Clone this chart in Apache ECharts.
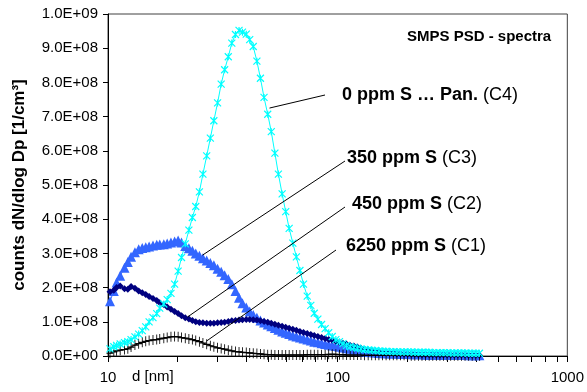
<!DOCTYPE html>
<html><head><meta charset="utf-8">
<script src="https://cdn.jsdelivr.net/npm/echarts@6/dist/echarts.min.js"></script>
<style>html,body{margin:0;padding:0;background:#fff}#c{width:587px;height:392px}</style>
</head><body><div id="c"></div>
<script>
// particle diameter channels [nm]
const diameters = [10.2,10.6,10.9,11.3,11.8,12.2,12.6,13.1,13.6,14.1,
14.6,15.1,15.7,16.3,16.8,17.5,18.1,18.8,19.5,20.2,
20.9,21.7,22.5,23.3,24.1,25.0,25.9,26.9,27.9,28.9,
30.0,31.1,32.2,33.4,34.6,35.9,37.2,38.5,40.0,41.4,
42.9,44.5,46.1,47.8,49.6,51.4,53.3,55.2,57.3,59.4,
61.5,63.8,66.1,68.5,71.0,73.7,76.4,79.1,82.0,85.1,
88.2,91.4,94.7,98.2,101.8,105.5,109.4,113.4,117.6,121.9,
126.3,131.0,135.8,140.7,145.9,151.2,156.8,162.5,168.5,174.7,
181.1,187.7,194.6,201.7,209.1,216.7,224.7,232.9,241.4,250.3,
259.5,269.0,278.8,289.0,299.6,310.6,322.0,333.8,346.0,358.7,
371.8,385.4,399.5,414.2];

// counts dN/dlog Dp, in millions per cm3
const c1_6250ppm = [8,12,15,17,19,21,26,32,36,40,
43,45,47,48,50,52,54,56,57,56,
54,52,50,48,45,42,38,34,30,27,
24,22,20,17,15,13,12,11,10,9,
8,7,6,5,4,4,3,3,3,3,
3,3,3,3,3,4,4,4,4,4,
4,5,5,5,4,4,3,3,3,3,
3,2,2,2,2,2,2,2,2,2,
2,2,2,2,1,1,1,1,1,1,
1,1,1,1,1,1,1,1,1,1,
1,1,1,1];

const c2_450ppm = [188,192,200,205,197,195,203,198,190,185,
180,174,168,162,156,150,143,137,130,124,
118,112,108,104,100,98,97,96,96,96,
97,98,99,101,103,104,105,106,107,107,
106,105,103,101,99,96,93,90,87,84,
81,78,75,72,69,66,63,60,57,54,
51,48,46,43,40,37,34,31,29,26,
23,20,17,15,13,11,10,9,8,7,
6,6,5,5,5,5,4,4,4,4,
4,3,3,3,3,3,3,3,3,3,
2,2,2,2];

const c3_350ppm = [160,190,215,235,258,275,290,303,312,316,
318,320,323,325,326,327,329,332,335,338,
332,322,315,308,300,293,286,279,272,265,
255,246,236,225,210,190,170,154,142,130,
120,112,104,98,92,87,82,77,72,68,
64,60,57,54,51,48,45,42,40,37,
35,33,31,29,27,25,23,21,19,17,
15,13,12,11,10,9,8,8,7,7,
7,6,6,6,5,5,5,5,4,4,
4,4,4,3,3,3,3,3,3,3,
2,2,2,2];

const c4_0ppm = [21,27,31,35,39,42,48,56,64,74,
85,100,112,124,140,152,165,183,210,248,
288,328,368,405,437,480,532,585,637,688,
740,795,837,875,915,940,952,947,941,925,
905,862,812,756,707,656,593,532,474,422,
373,330,290,250,210,175,148,125,108,92,
80,68,57,48,42,36,31,27,25,23,
21,19,18,17,16,15,14,14,13,13,
13,12,12,12,12,11,11,11,11,11,
10,10,10,10,10,9,9,9,9,9,
8,8,8,8];

const xLabelValues = [10, 100, 1000];
const xTickValues = [10,20,30,40,50,60,70,80,90,100,200,300,400,500,600,700,800,900,1000];
const yMin = 0, yMax = 1000, yStep = 100; // millions

const seriesNames = ['6250 ppm S (C1)', '450 ppm S (C2)', '350 ppm S (C3)', '0 ppm S ... Pan. (C4)'];

function pairs(vals) { return diameters.map((d, i) => [d, vals[i]]); }
function fmtE(v) {
  if (v === 0) return '0.0E+00';
  const val = v * 1e6;
  const e = Math.floor(Math.log10(val) + 1e-9);
  const m = val / Math.pow(10, e);
  return m.toFixed(1) + 'E+' + (e < 10 ? '0' : '') + e;
}

const FONT = 'Liberation Sans';
const mlBase = {
  silent: true, animation: false, symbol: ['none', 'none'],
  label: { show: false },
  lineStyle: { color: '#000', width: 1, type: 'solid' },
  emphasis: { disabled: true }
};
function annot(x, y, bold, normal) {
  return { type: 'text', x: x, y: y, silent: true,
    style: { text: '{b|' + bold + '} {n|' + normal + '}', fontSize: 18, fontFamily: FONT, fill: '#000', verticalAlign: 'middle', align: 'left',
      rich: { b: { fontWeight: 'bold', fontSize: 18, fontFamily: FONT }, n: { fontSize: 18, fontFamily: FONT } } } };
}

const chart = echarts.init(document.getElementById('c'), null, { renderer: 'canvas' });
chart.setOption({
  animation: false,
  backgroundColor: '#fff',
  grid: { left: 108, right: 18, top: 14, bottom: 36, show: true, borderColor: '#404040', borderWidth: 1, backgroundColor: 'transparent' },
  xAxis: {
    type: 'log', logBase: 10, min: 10, max: 1000, position: 'bottom',
    axisLine: { lineStyle: { color: '#000', width: 1 } },
    axisTick: { show: true, length: 6, customValues: xTickValues, lineStyle: { color: '#000', width: 1 } },
    axisLabel: { customValues: xLabelValues, fontSize: 15, color: '#000', margin: 14, fontFamily: FONT, formatter: v => String(Math.round(v)) },
    splitLine: { show: false }
  },
  yAxis: {
    type: 'value', min: yMin, max: yMax, interval: yStep,
    name: 'counts dN/dlog Dp [1/cm³]',
    nameLocation: 'middle', nameGap: 80,
    nameTextStyle: { fontSize: 17, fontWeight: 'bold', color: '#000', fontFamily: FONT },
    axisLine: { show: true, lineStyle: { color: '#000', width: 1 } },
    axisTick: { show: true, length: 5, lineStyle: { color: '#000' } },
    axisLabel: { fontSize: 15, color: '#000', margin: 10, fontFamily: FONT, formatter: fmtE },
    splitLine: { show: false }
  },
  series: [
    {
      name: seriesNames[2], type: 'line', data: pairs(c3_350ppm), showAllSymbol: true,
      symbol: 'triangle', symbolSize: 10,
      itemStyle: { color: '#3366FF', borderColor: '#3366FF', borderWidth: 0 },
      lineStyle: { color: '#3366FF', width: 1 },
      markLine: Object.assign({}, mlBase, { data: [[{ coord: [25.8, 295] }, { x: 345, y: 161 }]] })
    },
    {
      name: seriesNames[1], type: 'line', data: pairs(c2_450ppm), showAllSymbol: true,
      symbol: 'diamond', symbolSize: 7,
      itemStyle: { color: '#000080', borderColor: '#000080', borderWidth: 0 },
      lineStyle: { color: '#000080', width: 1 },
      markLine: Object.assign({}, mlBase, { data: [[{ coord: [22.2, 114] }, { x: 345, y: 207 }]] })
    },
    {
      name: seriesNames[0], type: 'line', data: pairs(c1_6250ppm), showAllSymbol: true,
      symbol: 'path://M5,0L5,10M0,5L10,5', symbolSize: [7, 10],
      itemStyle: { color: '#000', borderColor: '#000', borderWidth: 1 },
      lineStyle: { color: '#000', width: 1 },
      markLine: Object.assign({}, mlBase, { data: [[{ coord: [26.9, 44] }, { x: 336, y: 250 }]] })
    },
    {
      name: seriesNames[3], type: 'line', data: pairs(c4_0ppm), showAllSymbol: true,
      symbol: 'path://M0,0L10,10M10,0L0,10M5,0L5,10', symbolSize: 7,
      itemStyle: { color: '#00FFFF', borderColor: '#00FFFF', borderWidth: 1.2 },
      lineStyle: { color: '#00FFFF', width: 1 },
      markLine: Object.assign({}, mlBase, { data: [[{ coord: [50.5, 725] }, { x: 325, y: 95 }]] })
    }
  ],
  graphic: [
    { type: 'text', x: 407, y: 37, silent: true,
      style: { text: 'SMPS PSD - spectra', fontFamily: FONT, fontWeight: 'bold', fontSize: 15, fill: '#000', verticalAlign: 'middle', align: 'left' } },
    annot(342, 95, '0 ppm S … Pan.', '(C4)'),
    annot(347, 158, '350 ppm S', '(C3)'),
    annot(352, 204, '450 ppm S', '(C2)'),
    annot(346, 246, '6250 ppm S', '(C1)'),
    { type: 'text', x: 132, y: 377, silent: true,
      style: { text: 'd [nm]', fontSize: 15, fontFamily: FONT, fill: '#000', verticalAlign: 'middle', align: 'left' } }
  ]
});
</script>
</body></html>
